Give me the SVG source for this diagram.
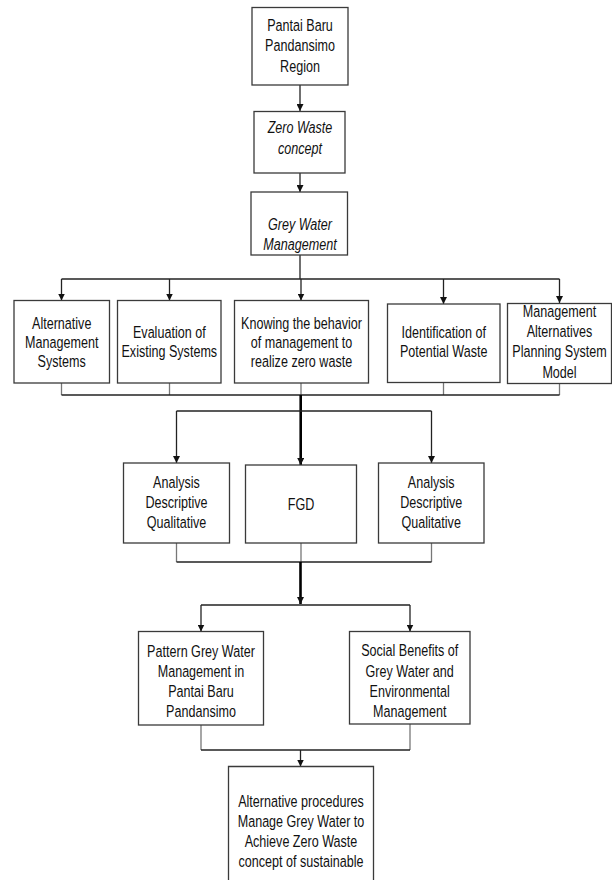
<svg xmlns="http://www.w3.org/2000/svg" width="612" height="882" viewBox="0 0 612 882">
<defs>
<style>
.box{fill:#fff;stroke:#3a3a3a;stroke-width:1.3}
.t{font-family:"Liberation Sans",Arial,sans-serif;font-size:17px;fill:#111;text-anchor:middle}
.i{font-style:italic}
.c{fill:none;stroke:#222;stroke-width:1.3}
.g{fill:none;stroke:#777;stroke-width:1.3}
.k{fill:none;stroke:#000;stroke-width:2.6}
</style>
<marker id="ah" viewBox="0 0 10 10" refX="10" refY="5" markerWidth="7" markerHeight="7" markerUnits="userSpaceOnUse" orient="auto">
<path d="M0,0 L10,5 L0,10 z" fill="#111"/>
</marker>
</defs>
<rect width="612" height="882" fill="#fff"/>
<g id="connectors">
<line class="c" x1="300" y1="85" x2="300" y2="111" marker-end="url(#ah)"/>
<line class="c" x1="300" y1="173" x2="300" y2="192" marker-end="url(#ah)"/>
<line class="c" x1="300" y1="255" x2="300" y2="279"/>
<line class="c" x1="61.5" y1="279" x2="559.5" y2="279"/>
<line class="c" x1="61.5" y1="279" x2="61.5" y2="300.5" marker-end="url(#ah)"/>
<line class="c" x1="169.5" y1="279" x2="169.5" y2="300.5" marker-end="url(#ah)"/>
<line class="c" x1="301" y1="279" x2="301" y2="300.5" marker-end="url(#ah)"/>
<line class="c" x1="443.5" y1="279" x2="443.5" y2="304" marker-end="url(#ah)"/>
<line class="c" x1="559.5" y1="279" x2="559.5" y2="303" marker-end="url(#ah)"/>
<line class="g" x1="61.5" y1="383" x2="61.5" y2="395"/>
<line class="g" x1="169.5" y1="383" x2="169.5" y2="395"/>
<line class="g" x1="301" y1="383" x2="301" y2="395"/>
<line class="g" x1="443.5" y1="382" x2="443.5" y2="395"/>
<line class="g" x1="559.5" y1="383" x2="559.5" y2="395"/>
<line class="c" x1="61.5" y1="395" x2="559.5" y2="395"/>
<line class="k" x1="300.7" y1="395" x2="300.7" y2="465" marker-end="url(#ah)"/>
<line class="c" x1="176.5" y1="411" x2="431.5" y2="411"/>
<line class="c" x1="176.5" y1="411" x2="176.5" y2="463" marker-end="url(#ah)"/>
<line class="c" x1="431.5" y1="411" x2="431.5" y2="463" marker-end="url(#ah)"/>
<line class="g" x1="176.5" y1="543" x2="176.5" y2="562"/>
<line class="g" x1="301" y1="543" x2="301" y2="562"/>
<line class="g" x1="431.5" y1="543" x2="431.5" y2="562"/>
<line class="c" x1="176.5" y1="562" x2="431.5" y2="562"/>
<line class="k" x1="300.5" y1="562" x2="300.5" y2="604" marker-end="url(#ah)"/>
<line class="c" x1="201" y1="605" x2="410" y2="605"/>
<line class="c" x1="201" y1="605" x2="201" y2="631.5" marker-end="url(#ah)"/>
<line class="c" x1="410" y1="605" x2="410" y2="631.5" marker-end="url(#ah)"/>
<line class="g" x1="201" y1="725" x2="201" y2="750"/>
<line class="g" x1="410" y1="724" x2="410" y2="750"/>
<line class="c" x1="201" y1="750" x2="410" y2="750"/>
<line class="c" x1="300.5" y1="750" x2="300.5" y2="766.5" marker-end="url(#ah)"/>
</g>
<g id="n1">
<rect class="box" x="252" y="7.5" width="96" height="77.5"/>
<text class="t" transform="translate(300 0) scale(0.74 1)"><tspan x="0" y="31">Pantai Baru</tspan><tspan x="0" y="51.5">Pandansimo</tspan><tspan x="0" y="72">Region</tspan></text>
</g>
<g id="n2">
<rect class="box" x="254" y="111.5" width="91" height="61.5"/>
<text class="t i" transform="translate(300 0) scale(0.74 1)"><tspan x="0" y="133">Zero Waste</tspan><tspan x="0" y="154">concept</tspan></text>
</g>
<g id="n3">
<rect class="box" x="251" y="192" width="96.5" height="63"/>
<text class="t i" transform="translate(300 0) scale(0.74 1)"><tspan x="0" y="230">Grey Water</tspan><tspan x="0" y="250">Management</tspan></text>
</g>
<g id="n4">
<rect class="box" x="14" y="300.5" width="95.5" height="82.5"/>
<text class="t" transform="translate(61.7 0) scale(0.74 1)"><tspan x="0" y="329">Alternative</tspan><tspan x="0" y="348.5">Management</tspan><tspan x="0" y="367.5">Systems</tspan></text>
</g>
<g id="n5">
<rect class="box" x="117.5" y="300.5" width="103.5" height="82.5"/>
<text class="t" transform="translate(169.3 0) scale(0.74 1)"><tspan x="0" y="338">Evaluation of</tspan><tspan x="0" y="357">Existing Systems</tspan></text>
</g>
<g id="n6">
<rect class="box" x="234.5" y="300.5" width="134" height="82.5"/>
<text class="t" transform="translate(301.5 0) scale(0.74 1)"><tspan x="0" y="329">Knowing the behavior</tspan><tspan x="0" y="348.3">of management to</tspan><tspan x="0" y="367.3">realize zero waste</tspan></text>
</g>
<g id="n7">
<rect class="box" x="387.5" y="304" width="112.5" height="78.5"/>
<text class="t" transform="translate(443.7 0) scale(0.74 1)"><tspan x="0" y="338">Identification of</tspan><tspan x="0" y="357">Potential Waste</tspan></text>
</g>
<g id="n8">
<rect class="box" x="507.5" y="303.5" width="104" height="80"/>
<text class="t" transform="translate(559.5 0) scale(0.74 1)"><tspan x="0" y="316.7">Management</tspan><tspan x="0" y="336.7">Alternatives</tspan><tspan x="0" y="357.3">Planning System</tspan><tspan x="0" y="378">Model</tspan></text>
</g>
<g id="n9">
<rect class="box" x="123.5" y="463" width="106" height="80"/>
<text class="t" transform="translate(176.5 0) scale(0.74 1)"><tspan x="0" y="488">Analysis</tspan><tspan x="0" y="508">Descriptive</tspan><tspan x="0" y="528">Qualitative</tspan></text>
</g>
<g id="n10">
<rect class="box" x="245.5" y="465" width="111" height="78"/>
<text class="t" transform="translate(301 0) scale(0.74 1)"><tspan x="0" y="510">FGD</tspan></text>
</g>
<g id="n11">
<rect class="box" x="378.5" y="463" width="105.5" height="80"/>
<text class="t" transform="translate(431.2 0) scale(0.74 1)"><tspan x="0" y="488">Analysis</tspan><tspan x="0" y="508">Descriptive</tspan><tspan x="0" y="528">Qualitative</tspan></text>
</g>
<g id="n12">
<rect class="box" x="138.5" y="631.5" width="125" height="93.5"/>
<text class="t" transform="translate(201 0) scale(0.74 1)"><tspan x="0" y="657">Pattern Grey Water</tspan><tspan x="0" y="677">Management in</tspan><tspan x="0" y="697">Pantai Baru</tspan><tspan x="0" y="717">Pandansimo</tspan></text>
</g>
<g id="n13">
<rect class="box" x="349.5" y="631.5" width="120.5" height="92.5"/>
<text class="t" transform="translate(409.7 0) scale(0.74 1)"><tspan x="0" y="656">Social Benefits of</tspan><tspan x="0" y="677">Grey Water and</tspan><tspan x="0" y="697">Environmental</tspan><tspan x="0" y="717">Management</tspan></text>
</g>
<g id="n14">
<path class="box" d="M228.5,880 L228.5,766.5 L373.5,766.5 L373.5,880"/>
<text class="t" transform="translate(301 0) scale(0.74 1)"><tspan x="0" y="806.7">Alternative procedures</tspan><tspan x="0" y="826.7">Manage Grey Water to</tspan><tspan x="0" y="846.7">Achieve Zero Waste</tspan><tspan x="0" y="866.7">concept of sustainable</tspan></text>
</g>
</svg>
